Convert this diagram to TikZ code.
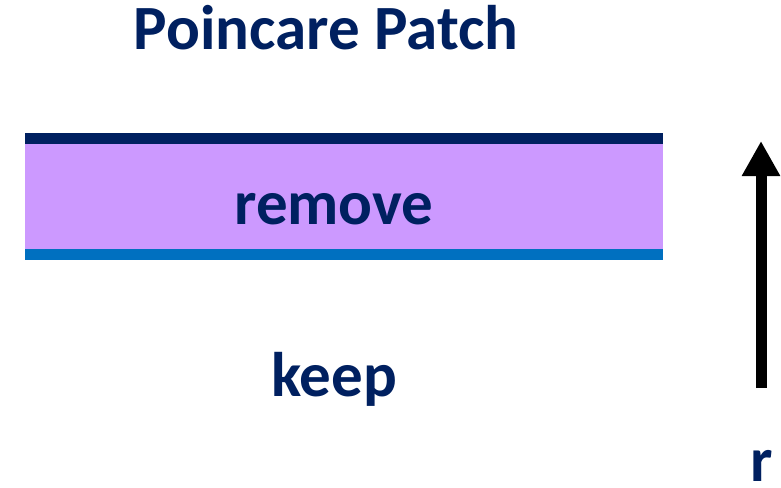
\documentclass[tikz,border=0pt]{standalone}
\usepackage{fontspec}
\setmainfont{Carlito}
\usetikzlibrary{arrows.meta}
\definecolor{navy}{HTML}{002060}
\definecolor{lilac}{HTML}{CC99FF}
\definecolor{edgeblue}{HTML}{0070C0}

\begin{document}
\begin{tikzpicture}[x=1pt, y=-1pt]
 \tikzstyle{label} = [text=navy, font=\bfseries\fontsize{63}{63}\selectfont, inner sep=0pt, anchor=base]
 \useasboundingbox (0,0) rectangle (781,487);

 % the patch: upper edge, band, lower edge
 \fill [lilac]    (25,144) rectangle (663,249);
 \fill [navy]     (25,133) rectangle (663,144);
 \fill [edgeblue] (25,249) rectangle (663,260);

 \node [label] (title) at (326,50) {Poincare Patch};
 \node [label] (remove) at (334,224) {remove};
 \node [label] (keep) at (334,396) {keep};
 \node [label] (r) at (762,481) {r};

 % direction of r
 \coordinate (rlow) at (761,388);
 \coordinate (rhigh) at (761,141);
 \draw [line width=11pt, -{Triangle[length=35pt, width=36pt]}] (rlow) -- (rhigh);
\end{tikzpicture}
\end{document}
